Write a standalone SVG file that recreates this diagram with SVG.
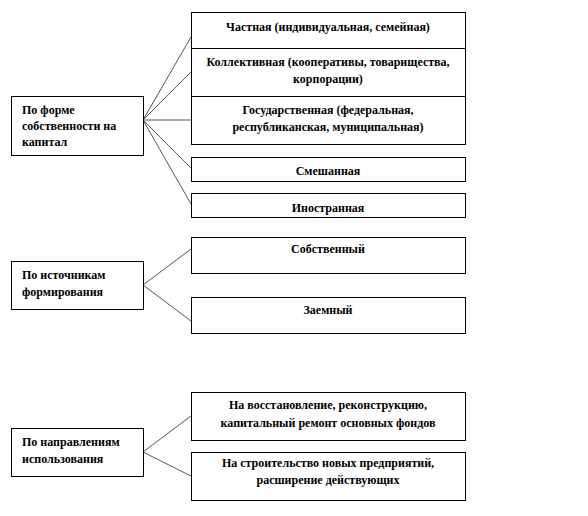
<svg xmlns="http://www.w3.org/2000/svg" width="588" height="516" viewBox="0 0 588 516">
<style>
.box{fill:#fff;stroke:#000;stroke-width:1}
.t{font-family:'Liberation Serif','DejaVu Serif',serif;font-size:12px;font-weight:bold;fill:#000}
.c{text-anchor:middle}
.ln{stroke:#555;stroke-width:1;fill:none}
</style>
<rect width="588" height="516" fill="#fff"/>
<g id="connectors">
<line class="ln" x1="143" y1="120" x2="191" y2="37"/>
<line class="ln" x1="143" y1="120" x2="191" y2="72"/>
<line class="ln" x1="143" y1="120" x2="191" y2="120"/>
<line class="ln" x1="143" y1="120" x2="191" y2="168"/>
<line class="ln" x1="143" y1="120" x2="191" y2="204"/>
<line class="ln" x1="143" y1="285" x2="191" y2="249"/>
<line class="ln" x1="143" y1="285" x2="191" y2="321"/>
<line class="ln" x1="143" y1="452" x2="191" y2="416"/>
<line class="ln" x1="143" y1="452" x2="191" y2="476"/>
</g>
<g id="n-form">
<rect class="box" x="11.5" y="96.5" width="132" height="59"/>
<text class="t" x="22" y="114">По форме</text>
<text class="t" x="22" y="130">собственности на</text>
<text class="t" x="22" y="146">капитал</text>
</g>
<g id="n-private">
<rect class="box" x="191.5" y="12.5" width="274" height="36"/>
<text class="t c" x="328" y="31">Частная (индивидуальная,  семейная)</text>
</g>
<g id="n-collective">
<rect class="box" x="191.5" y="48.5" width="274" height="48"/>
<text class="t c" x="328" y="66">Коллективная  (кооперативы, товарищества,</text>
<text class="t c" x="328" y="83">корпорации)</text>
</g>
<g id="n-state">
<rect class="box" x="191.5" y="96.5" width="274" height="48"/>
<text class="t c" x="328" y="114">Государственная (федеральная,</text>
<text class="t c" x="328" y="131">республиканская, муниципальная)</text>
</g>
<g id="n-mixed">
<rect class="box" x="191.5" y="157.5" width="274" height="24"/>
<text class="t c" x="328" y="175">Смешанная</text>
</g>
<g id="n-foreign">
<rect class="box" x="191.5" y="193.5" width="274" height="24"/>
<text class="t c" x="328" y="212">Иностранная</text>
</g>
<g id="n-source">
<rect class="box" x="11.5" y="261.5" width="132" height="48"/>
<text class="t" x="22" y="279">По источникам</text>
<text class="t" x="22" y="296">формирования</text>
</g>
<g id="n-own">
<rect class="box" x="191.5" y="237.5" width="274" height="36"/>
<text class="t c" x="328" y="253">Собственный</text>
</g>
<g id="n-borrowed">
<rect class="box" x="191.5" y="297.5" width="274" height="36"/>
<text class="t c" x="328" y="314">Заемный</text>
</g>
<g id="n-use">
<rect class="box" x="11.5" y="428.5" width="132" height="48"/>
<text class="t" x="22" y="446">По направлениям</text>
<text class="t" x="22" y="463">использования</text>
</g>
<g id="n-restore">
<rect class="box" x="191.5" y="392.5" width="274" height="48"/>
<text class="t c" x="328" y="409">На восстановление, реконструкцию,</text>
<text class="t c" x="328" y="427">капитальный  ремонт основных фондов</text>
</g>
<g id="n-build">
<rect class="box" x="191.5" y="452.5" width="274" height="48"/>
<text class="t c" x="328" y="467">На строительство  новых предприятий,</text>
<text class="t c" x="328" y="484">расширение действующих</text>
</g>
</svg>
